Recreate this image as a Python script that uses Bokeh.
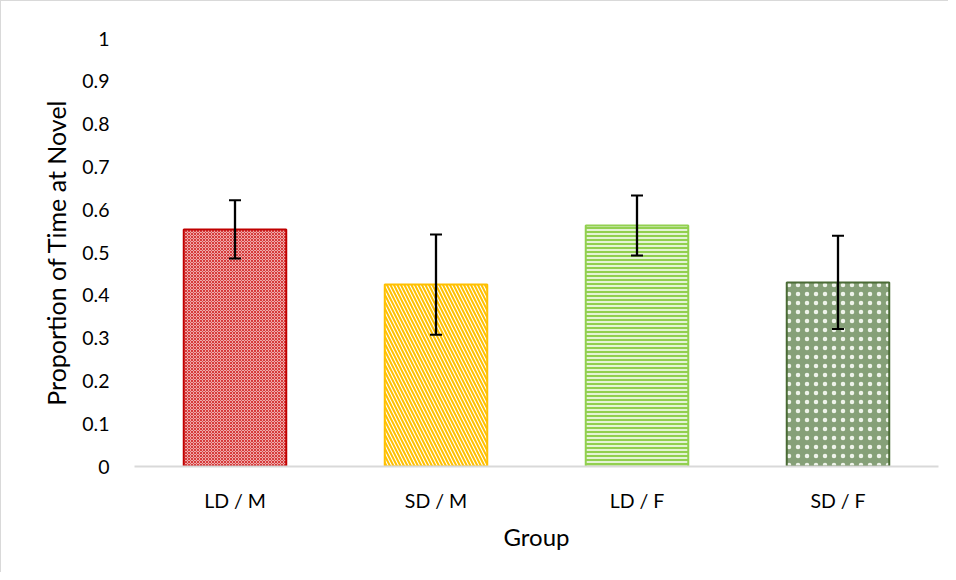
from bokeh.plotting import figure
from bokeh.models import ColumnDataSource, Whisker, TeeHead, FixedTicker, CustomJSTickFormatter
from bokeh.embed import file_html
from bokeh.resources import INLINE

groups = ["LD / M", "SD / M", "LD / F", "SD / F"]
means = [0.554, 0.425, 0.563, 0.430]
errors = [0.068, 0.117, 0.070, 0.109]
y_ticks = [0, 0.1, 0.2, 0.3, 0.4, 0.5, 0.6, 0.7, 0.8, 0.9, 1]

edge_colors = ["#c00000", "#ffc000", "#92d050", "#4a6b35"]
fill_colors = ["#eeaaaa", "#ffffff", "#e4f3d6", "#86a078"]
hatch_patterns = ["diagonal_cross", "left_diagonal_line", "horizontal_line", "dot"]
hatch_colors = ["#d63a3a", "#ffc000", "#92d050", "#eef3ea"]
hatch_scales = [3, 7, 4, 9]
hatch_weights = [1, 2, 2, 1]

FONT = "Lato"

src = ColumnDataSource(dict(
    g=groups, m=means,
    up=[m + e for m, e in zip(means, errors)],
    lo=[m - e for m, e in zip(means, errors)],
    ec=edge_colors, fc=fill_colors, hp=hatch_patterns, hc=hatch_colors,
    hs=hatch_scales, hw=hatch_weights,
))

p = figure(x_range=groups, y_range=(0, 1), width=948, height=572,
           output_backend="svg", toolbar_location=None,
           min_border_left=133, min_border_right=11, min_border_top=37,
           min_border_bottom=107)
p.styles = {"border-left": "1px solid #d9d9d9", "border-top": "1px solid #d9d9d9"}
p.outline_line_color = None
p.xgrid.grid_line_color = None
p.ygrid.grid_line_color = None

p.vbar(x="g", top="m", width=0.51, source=src,
       fill_color="fc", line_color="ec", line_width=2,
       hatch_pattern="hp", hatch_color="hc", hatch_scale="hs", hatch_weight="hw")

w = Whisker(base="g", upper="up", lower="lo", source=src,
            line_color="black", line_width=2.3, level="overlay",
            upper_head=TeeHead(size=12, line_color="black", line_width=2),
            lower_head=TeeHead(size=12, line_color="black", line_width=2))
p.add_layout(w)

p.yaxis.ticker = FixedTicker(ticks=y_ticks)
p.yaxis.formatter = CustomJSTickFormatter(code="return String(Math.round(tick*10)/10);")
p.yaxis.axis_line_color = None
p.yaxis.major_tick_line_color = None
p.yaxis.minor_tick_line_color = None
p.yaxis.major_label_standoff = 19
p.yaxis.axis_label = "Proportion of Time at Novel"
p.yaxis.axis_label_standoff = 8

p.xaxis.axis_line_color = "#d9d9d9"
p.xaxis.axis_line_width = 2
p.xaxis.major_tick_line_color = None
p.xaxis.minor_tick_line_color = None
p.xaxis.major_label_standoff = 16
p.xaxis.axis_label = "Group"
p.xaxis.axis_label_standoff = 7

for ax in (p.xaxis, p.yaxis):
    ax.major_label_text_font = FONT
    ax.major_label_text_font_size = "19.5px"
    ax.major_label_text_color = "#000000"
    ax.axis_label_text_font = FONT
    ax.axis_label_text_font_style = "normal"
    ax.axis_label_text_color = "#000000"
p.yaxis.axis_label_text_font_size = "25px"
p.xaxis.axis_label_text_font_size = "24px"

p.x_range.range_padding = 0

open("out.html", "w").write(file_html(p, INLINE))
